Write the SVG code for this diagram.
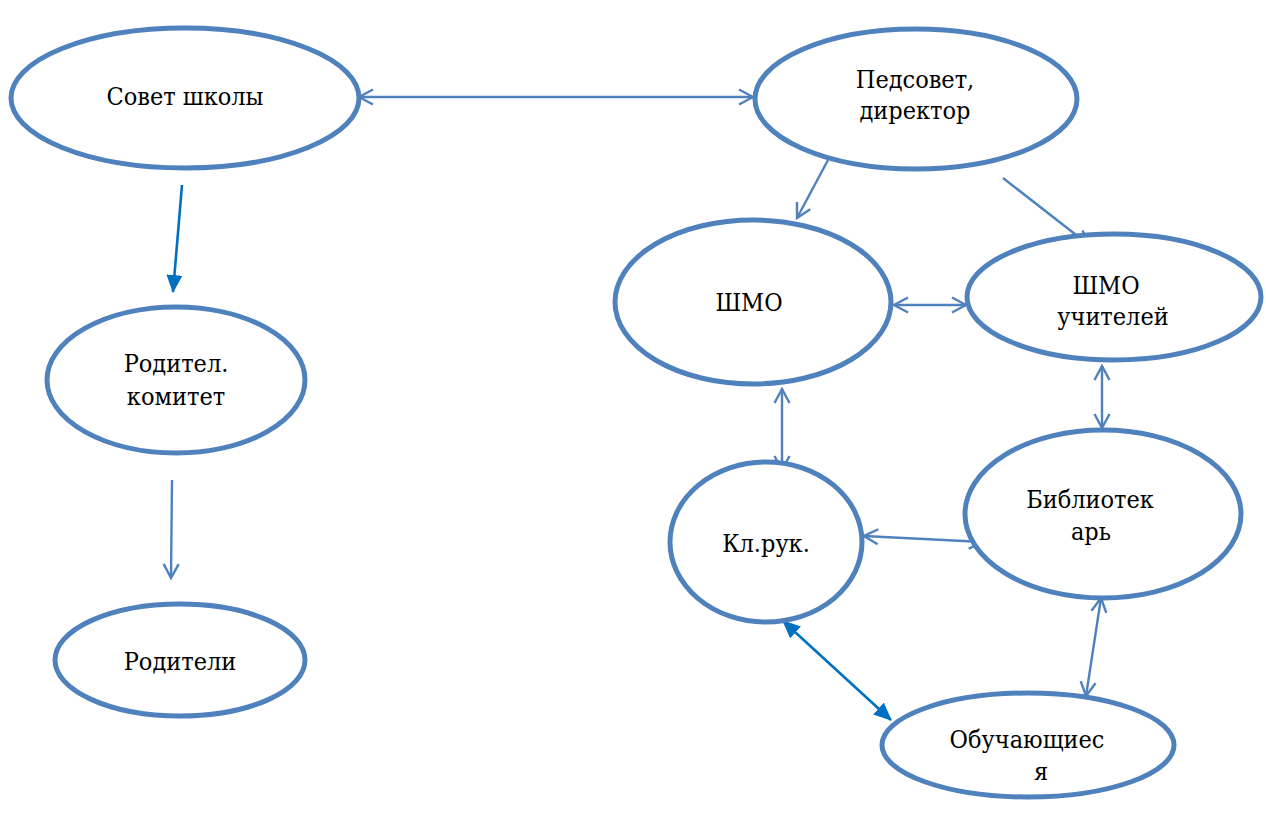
<svg xmlns="http://www.w3.org/2000/svg" width="1266" height="818" viewBox="0 0 1266 818">
<style>
.node ellipse{fill:#fff;stroke:#4F81BD;stroke-width:5}
.t{font-family:'DejaVu Serif Condensed','DejaVu Serif',serif;font-size:25px;fill:#000;text-anchor:middle}
.c{stroke:#4F81BD;stroke-width:2.4;fill:none}
.cf{stroke:#0070C0;stroke-width:2.6;fill:none}
</style>
<defs>
<marker id="oa" viewBox="0 0 18 18" markerWidth="18" markerHeight="18" refX="16" refY="9" orient="auto-start-reverse" markerUnits="userSpaceOnUse">
<path d="M2,1.5 L16,9 L2,16.5" fill="none" stroke="#4F81BD" stroke-width="2.4"/>
</marker>
<marker id="fa" viewBox="0 0 18 16" markerWidth="18" markerHeight="16" refX="17" refY="8" orient="auto-start-reverse" markerUnits="userSpaceOnUse">
<path d="M0,0 L18,8 L0,16 z" fill="#0070C0"/>
</marker>
</defs>
<rect width="1266" height="818" fill="#fff"/>
<g id="connectors">
<line class="c" x1="359" y1="97" x2="753" y2="97" marker-start="url(#oa)" marker-end="url(#oa)"/>
<line class="cf" x1="182" y1="185" x2="173" y2="292" marker-end="url(#fa)"/>
<line class="c" x1="172" y1="480" x2="171" y2="578" marker-end="url(#oa)"/>
<line class="c" x1="828" y1="160" x2="797" y2="218" marker-end="url(#oa)"/>
<line class="c" x1="1003" y1="178" x2="1089" y2="245" marker-end="url(#oa)"/>
<line class="c" x1="894" y1="305" x2="966" y2="305" marker-start="url(#oa)" marker-end="url(#oa)"/>
<line class="c" x1="782" y1="389" x2="782" y2="470" marker-start="url(#oa)" marker-end="url(#oa)"/>
<line class="c" x1="1102" y1="366" x2="1102" y2="428" marker-start="url(#oa)" marker-end="url(#oa)"/>
<line class="c" x1="864" y1="536" x2="983" y2="542" marker-start="url(#oa)" marker-end="url(#oa)"/>
<line class="cf" x1="783" y1="621" x2="891" y2="720" marker-start="url(#fa)" marker-end="url(#fa)"/>
<line class="c" x1="1101" y1="598" x2="1086" y2="696" marker-start="url(#oa)" marker-end="url(#oa)"/>
</g>
<g id="sovet" class="node"><ellipse cx="185" cy="98" rx="174" ry="70"/><text class="t" x="185" y="105">Совет школы</text></g>
<g id="pedsovet" class="node"><ellipse cx="916" cy="99" rx="161" ry="70"/><text class="t" x="915" y="88">Педсовет,</text><text class="t" x="915" y="119">директор</text></g>
<g id="shmo" class="node"><ellipse cx="753" cy="302" rx="138" ry="82"/><text class="t" x="749" y="311">ШМО</text></g>
<g id="shmo-uch" class="node"><ellipse cx="1114" cy="297" rx="147" ry="63"/><text class="t" x="1106" y="294">ШМО</text><text class="t" x="1113" y="325">учителей</text></g>
<g id="rodkom" class="node"><ellipse cx="176" cy="380" rx="129" ry="73"/><text class="t" x="176" y="372">Родител.</text><text class="t" x="176" y="405">комитет</text></g>
<g id="roditeli" class="node"><ellipse cx="180" cy="660" rx="125" ry="56"/><text class="t" x="180" y="670">Родители</text></g>
<g id="klruk" class="node"><ellipse cx="766" cy="542" rx="96" ry="80"/><text class="t" x="766" y="552">Кл.рук.</text></g>
<g id="bibl" class="node"><ellipse cx="1103" cy="514" rx="138" ry="84"/><text class="t" x="1090" y="508">Библиотек</text><text class="t" x="1091" y="540">арь</text></g>
<g id="obuch" class="node"><ellipse cx="1028" cy="745" rx="146" ry="52"/><text class="t" x="1027" y="748">Обучающиес</text><text class="t" x="1041" y="780">я</text></g>
</svg>
